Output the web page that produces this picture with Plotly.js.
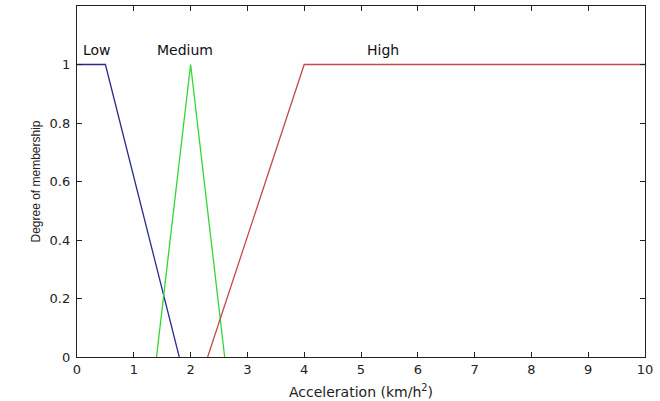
<!DOCTYPE html>
<html>
<head>
<meta charset="utf-8">
<script src="https://cdn.plot.ly/plotly-3.0.1.min.js"></script>
<style>html,body{margin:0;padding:0;background:#fff;}#chart{width:660px;height:401px;}</style>
</head>
<body>
<div id="chart"></div>
<script>
// Membership functions (breakpoints)
const lowX = [0, 0.5, 1.8];
const lowY = [1, 1, 0];
const medX = [1.4, 2, 2.6];
const medY = [0, 1, 0];
const highX = [2.3, 4, 10];
const highY = [0, 1, 1];
const labelText = ["Low", "Medium", "High"];
const labelX = [0.35, 1.9, 5.38];
const labelY = [1.05, 1.05, 1.05];
const xTicks = [0, 1, 2, 3, 4, 5, 6, 7, 8, 9, 10];
const yTicks = [0, 0.2, 0.4, 0.6, 0.8, 1];
const yTickText = ["0", "0.2", "0.4", "0.6", "0.8", "1"];

const WIDE = "DejaVu Sans, Verdana, sans-serif";
const NARROW = "Liberation Sans, Arial, sans-serif";

const traces = [
  {x: lowX, y: lowY, mode: "lines", line: {color: "#2b2b8c", width: 1.3}, hoverinfo: "skip"},
  {x: medX, y: medY, mode: "lines", line: {color: "#33d633", width: 1.3}, hoverinfo: "skip"},
  {x: highX, y: highY, mode: "lines", line: {color: "#c24a4a", width: 1.3}, hoverinfo: "skip"}
];

const annotations = labelText.map((t, i) => ({
  x: labelX[i], y: labelY[i], xref: "x", yref: "y", text: t, showarrow: false,
  font: {family: WIDE, size: 14, color: "#111"}
}));

const axisCommon = {
  showgrid: false, zeroline: false, showline: true, mirror: "ticks",
  linecolor: "#222", linewidth: 1.2, ticks: "inside", ticklen: 5, tickcolor: "#222",
  tickfont: {family: WIDE, size: 13, color: "#222"}
};

const layout = {
  width: 660, height: 401,
  margin: {l: 76.5, r: 14.5, t: 6, b: 43.5},
  paper_bgcolor: "#fff", plot_bgcolor: "#fff",
  showlegend: false,
  xaxis: Object.assign({}, axisCommon, {
    range: [0, 10], tickvals: xTicks, ticktext: xTicks.map(String),
    title: {text: "Acceleration (km/h<sup>2</sup>)", standoff: 11,
      font: {family: WIDE, size: 14, color: "#222"}}
  }),
  yaxis: Object.assign({}, axisCommon, {
    range: [0, 1.2], tickvals: yTicks, ticktext: yTickText,
    ticklabelstandoff: 3,
    title: {text: "Degree of membership", standoff: 6,
      font: {family: NARROW, size: 12, color: "#222"}}
  }),
  annotations: annotations
};

Plotly.newPlot("chart", traces, layout, {staticPlot: true, displayModeBar: false});
</script>
</body>
</html>
